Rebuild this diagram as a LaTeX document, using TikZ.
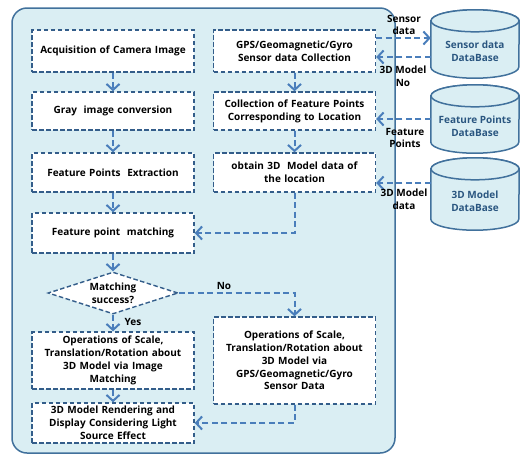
\documentclass[tikz,border=0pt]{standalone}
\usepackage{fontspec}
\setmainfont{Open Sans}
\usetikzlibrary{shapes.geometric,arrows.meta,calc}
\definecolor{bgblue}{HTML}{DAEEF3}
\definecolor{outline}{HTML}{41719C}
\definecolor{boxline}{HTML}{335D8A}
\definecolor{arrowc}{HTML}{4A7EBB}
\definecolor{dbtext}{HTML}{2A5680}
\tikzset{
  outerbox/.style={draw=outline, fill=bgblue, line width=1.5pt, rounded corners=15pt},
  stepbox/.style={draw=boxline, fill=white, line width=1.4pt, dash pattern=on 4.5pt off 2.5pt,
    align=center, inner sep=2pt, text width=158pt},
  lbox/.style={stepbox, minimum width=162pt},
  rbox/.style={stepbox, minimum width=161pt},
  decision/.style={diamond, draw=boxline, fill=white, line width=1.4pt, dash pattern=on 4.5pt off 2.5pt,
    aspect=3, inner sep=0pt, minimum width=130pt, minimum height=42pt, align=center},
  dbframe/.style={rectangle, inner sep=0pt, minimum width=88pt},
  dbline/.style={draw=outline, fill=bgblue, line width=1.5pt},
  dbtxt/.style={align=center, inner sep=0pt, text=dbtext},
  arr/.style={draw=arrowc, line width=2pt, dash pattern=on 6pt off 3.5pt,
    -{Straight Barb[length=6pt,width=13pt,line width=2pt]}},
  lbl/.style={align=center, inner sep=0pt, text=black}
}
\newcommand\dbcyl[1]{%
  \filldraw[dbline] ($(#1.north west)+(0,11)$) -- ($(#1.south west)+(0,-11)$)
    arc[start angle=180,end angle=360,x radius=44pt,y radius=11pt]
    -- ($(#1.north east)+(0,11)$)
    arc[start angle=0,end angle=180,x radius=44pt,y radius=11pt] -- cycle;
  \filldraw[dbline] ($(#1.north)+(0,11)$) ellipse[x radius=44pt,y radius=11pt];}
\begin{document}
\begin{tikzpicture}[x=1pt,y=-1pt, font=\bfseries\fontsize{10}{12.8}\selectfont]
\useasboundingbox (0,0) rectangle (523,456);
\draw[outerbox] (12,8) rectangle (395,453);

% left column
\node[lbox, minimum height=42pt] (b1) at (113,51) {Acquisition of Camera Image};
\node[lbox, minimum height=38pt] (b2) at (113,111) {Gray\ \ image conversion};
\node[lbox, minimum height=39pt] (b3) at (113,172.5) {Feature Points\ \ Extraction};
\node[lbox, minimum height=40pt] (b4) at (113,233) {Feature point\ \ matching};
\node[decision] (dia) at (113,293) {Matching\\success?};
\node[lbox, minimum height=57pt] (b5) at (113,360.5) {Operations of Scale,\\Translation/Rotation about\\3D Model via Image\\Matching};
\node[lbox, minimum height=40pt] (b6) at (113,423) {3D Model Rendering and\\Display Considering Light\\Source Effect};

% right column
\node[rbox, minimum height=42pt] (r1) at (294.5,51) {GPS/Geomagnetic/Gyro\\Sensor data Collection};
\node[rbox, minimum height=38pt] (r2) at (294.5,111) {Collection of Feature Points\\Corresponding to Location};
\node[rbox, minimum height=39pt] (r3) at (294.5,172.5) {obtain 3D\ \ Model data of\\the location};
\node[rbox, minimum height=87pt] (r4) at (294.5,360.5) {Operations of Scale,\\Translation/Rotation about\\3D Model via\\GPS/Geomagnetic/Gyro\\Sensor Data};

% databases
\node[dbframe, minimum height=68pt] (c1) at (475,44) {};
\node[dbframe, minimum height=68pt] (c2) at (475,119) {};
\node[dbframe, minimum height=72pt] (c3) at (475,194) {};
\dbcyl{c1}
\dbcyl{c2}
\dbcyl{c3}
\node[dbtxt] (c1t) at (475,51) {Sensor data\\DataBase};
\node[dbtxt] (c2t) at (475,126) {Feature Points\\DataBase};
\node[dbtxt] (c3t) at (475,201) {3D Model\\DataBase};

% flow arrows
\draw[arr] (b1) -- (b2);
\draw[arr] (b2) -- (b3);
\draw[arr] (b3) -- (b4);
\draw[arr] (b4) -- (dia);
\draw[arr] (dia) -- (b5);
\draw[arr] (b5) -- (b6);
\draw[arr] (r1) -- (r2);
\draw[arr] (r2) -- (r3);
\draw[arr] (r3.south) |- (b4.east);
\draw[arr] (dia.east) -| (r4.north);
\draw[arr] (r4.south) |- (b6.east);

% database arrows
\coordinate (s1) at ($(r1.east)+(0,-13)$);
\coordinate (s2) at ($(r1.east)+(0,6)$);
\coordinate (s3) at ($(c3.west)+(0,-11)$);
\draw[arr] (s1) -- (s1 -| c1.west);
\draw[arr] (s2 -| c1.west) -- (s2);
\draw[arr] (c2.west) -- (c2.west -| r2.east);
\draw[arr] (s3) -- (s3 -| r3.east);

% labels
\node[lbl] (l1) at (404,25) {Sensor\\data};
\node[lbl] (l2) at (403,76) {3D Model\\No};
\node[lbl] (l3) at (405,138) {Feature\\Points};
\node[lbl] (l4) at (404,199) {3D Model\\data};
\node[lbl] (lno) at (224,286) {No};
\node[lbl] (lyes) at (133,322) {Yes};
\end{tikzpicture}
\end{document}
